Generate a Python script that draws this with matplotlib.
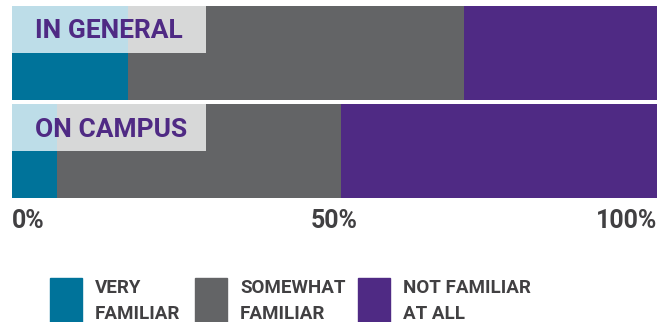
import numpy as np
import matplotlib.pyplot as plt
from matplotlib.patches import Rectangle

groups = ["IN GENERAL", "ON CAMPUS"]
very = [18, 7]
somewhat = [52, 44]
not_at_all = [30, 49]

tick_vals = [0, 50, 100]
tick_text = ["0%", "50%", "100%"]

legend_labels = ["VERY\nFAMILIAR", "SOMEWHAT\nFAMILIAR", "NOT FAMILIAR\nAT ALL"]

teal = "#00739a"
grey = "#636466"
purple = "#4f2a84"
light_teal = "#bddde8"
light_grey = "#d7d8d8"
text_col = "#414042"

plt.rcParams["font.family"] = ["Roboto", "DejaVu Sans"]

W, H = 672, 322
fig = plt.figure(figsize=(W / 100, H / 100), dpi=100)
ax = fig.add_axes([12 / W, (H - 198) / H, 645 / W, 192 / H])

y = np.arange(len(groups))
h = 0.95
very = np.array(very)
somewhat = np.array(somewhat)
not_at_all = np.array(not_at_all)

ax.barh(y, very, height=h, color=teal)
ax.barh(y, somewhat, left=very, height=h, color=grey)
ax.barh(y, not_at_all, left=very + somewhat, height=h, color=purple)

# label boxes over the top half of each bar
box_w = 30
yt = y - h / 4
lt = np.minimum(very, box_w)
ax.barh(yt, lt, height=h / 2, color=light_teal)
ax.barh(yt, box_w - lt, left=lt, height=h / 2, color=light_grey)
for yi, name in zip(yt, groups):
    ax.text(3.6, yi + 0.02, name, color=purple, fontsize=19, fontweight="bold",
            va="center", ha="left")

ax.set_xlim(0, 100)
ax.set_ylim(1 + h / 2, -h / 2)
ax.set_yticks([])
ax.set_xticks(tick_vals)
ax.set_xticklabels(tick_text, fontsize=18, fontweight="bold", color=text_col)
labs = ax.get_xticklabels()
labs[0].set_ha("left")
labs[-1].set_ha("right")
ax.tick_params(axis="x", length=0, pad=8)
for s in ax.spines.values():
    s.set_visible(False)

# legend
sq_x = [50, 195, 358]
tx_x = [95, 240, 403]
for sx, tx, c, lab in zip(sq_x, tx_x, [teal, grey, purple], legend_labels):
    fig.patches.append(Rectangle((sx / W, 0), 32 / W, (H - 278) / H,
                                 transform=fig.transFigure, color=c))
    fig.text(tx / W, (H - 279) / H, lab, fontsize=13.5, fontweight="bold",
             color=text_col, ha="left", va="top", linespacing=1.6)

fig.savefig("out.png", dpi=100)
